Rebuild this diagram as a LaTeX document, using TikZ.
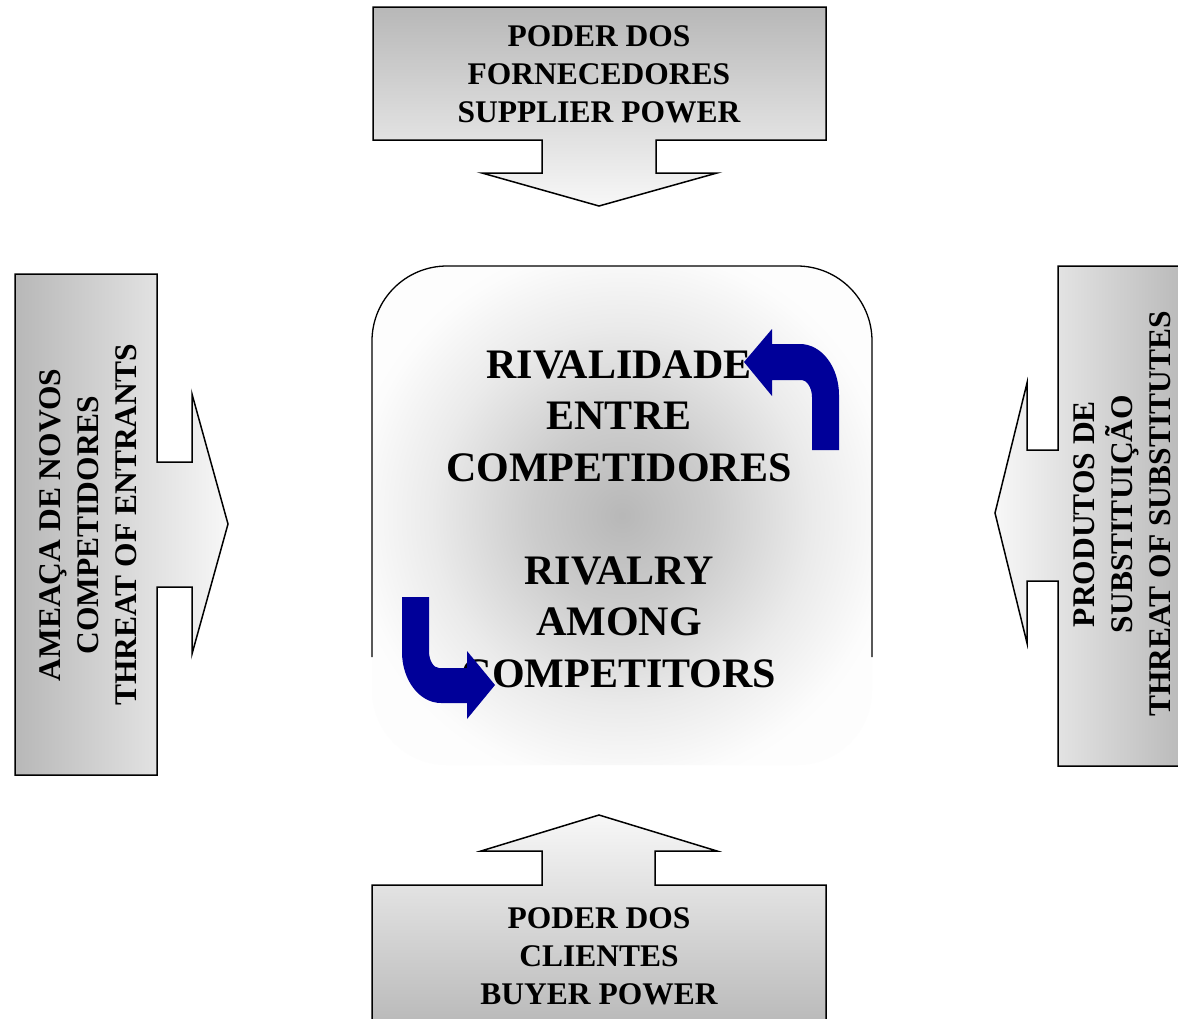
\documentclass[tikz,border=0pt]{standalone}
\usepackage{fontspec}
\setmainfont{Liberation Serif}
\definecolor{navy}{RGB}{0,0,153}
% soft grey glow fading to white, used behind the central text
\pgfdeclareradialshading{glow}{\pgfpoint{0bp}{0bp}}{color(0bp)=(black!28); color(9bp)=(black!20); color(19bp)=(black!8); color(27bp)=(black!1); color(50bp)=(white)}
\begin{document}
\begin{tikzpicture}[x=1pt,y=-1pt,
  callout/.style={draw=black, line width=1.5pt, line join=miter},
  force/.style={font=\bfseries\fontsize{31.5}{38}\selectfont, align=center, inner sep=0pt},
  rivalry/.style={font=\bfseries\fontsize{42}{51.5}\selectfont, align=center, inner sep=0pt},
  turn/.style={fill=navy, draw=none},
]
\useasboundingbox[fill=white] (0,0) rectangle (1178,1018);

% supplier power (top, pointing down)
\path[callout, top color=black!28, bottom color=black!3]
  (373,7) -- (826,7) -- (826,140) -- (656,140) -- (656,173) -- (717,173)
  -- (599,206) -- (482,173) -- (542,173) -- (542,140) -- (373,140) -- cycle;

% buyer power (bottom, pointing up)
\path[callout, top color=black!3, bottom color=black!28]
  (372,1030) -- (372,885) -- (542,885) -- (542,851) -- (481,851) -- (599,815)
  -- (717,851) -- (655,851) -- (655,885) -- (826,885) -- (826,1030) -- cycle;

% threat of entrants (left, pointing right)
\path[callout, left color=black!28, right color=black!3]
  (15,274) -- (157,274) -- (157,462) -- (192,462) -- (192,394) -- (228,524)
  -- (192,654) -- (192,587) -- (157,587) -- (157,775) -- (15,775) -- cycle;

% threat of substitutes (right, pointing left)
\path[callout, left color=black!3, right color=black!28]
  (1190,266) -- (1058,266) -- (1058,450) -- (1027,450) -- (1027,383) -- (995,513)
  -- (1027,643) -- (1027,581) -- (1058,581) -- (1058,766) -- (1190,766) -- cycle;

% central rivalry panel
\shade[shading=glow, rounded corners=75] (372,266) rectangle (872,765);
\draw[line width=1.3pt, rounded corners=75] (372,657) -- (372,266) -- (872,266) -- (872,657);

% texts
\node[force] (supplier) at (599,74) {PODER DOS\\FORNECEDORES\\SUPPLIER POWER};
\node[force] (buyer) at (599,956) {PODER DOS\\CLIENTES\\BUYER POWER};
\node[force, rotate=90] (entrants) at (88,525) {AMEAÇA DE NOVOS\\COMPETIDORES\\THREAT OF ENTRANTS};
\node[force, rotate=90] (substitutes) at (1122,514) {PRODUTOS DE\\SUBSTITUIÇÃO\\THREAT OF SUBSTITUTES};
\node[rivalry] (rivalry) at (619,519) {RIVALIDADE\\ENTRE\\COMPETIDORES\\[51.5pt]RIVALRY\\AMONG\\COMPETITORS};

% circular blue turn arrows
\path[turn] (772,344) -- (800,344) .. controls (821.5,344) and (839,366.8) .. (839,395)
  -- (839,450) -- (812,450) -- (812,397) .. controls (812,387.6) and (806.5,380) .. (802,380)
  -- (772,380) -- (772,396) -- (744,362) -- (772,329) -- cycle;
\path[turn] (429,597) -- (402,597) -- (402,652) .. controls (402,680.2) and (419.5,703) .. (441,703)
  -- (467,703) -- (467,719) -- (495,685) -- (467,651) -- (467,668) -- (439,668)
  .. controls (433.5,668) and (429,660.4) .. (429,651) -- cycle;
\end{tikzpicture}
\end{document}
